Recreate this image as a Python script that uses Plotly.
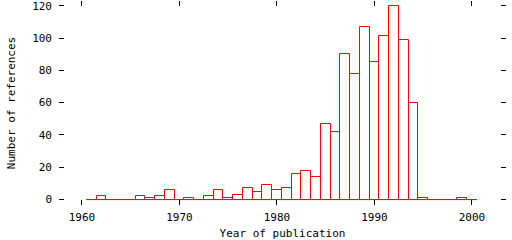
import plotly.graph_objects as go

years = list(range(1961, 2001))
counts = [0, 2, 0, 0, 0, 2, 1, 2, 6, 0,
          1, 0, 2, 6, 1, 3, 7, 5, 9, 6,
          7, 16, 18, 14, 47, 42, 90, 78, 107, 85,
          101, 120, 99, 60, 1, 0, 0, 0, 1, 0]
x_ticks = [1960, 1970, 1980, 1990, 2000]
y_ticks = [0, 20, 40, 60, 80, 100, 120]

FONT = "DejaVu Sans Mono"
RED = "#ff0000"

fig = go.Figure()
fig.add_trace(go.Bar(
    x=years, y=counts, width=1,
    marker=dict(color="rgba(0,0,0,0)", line=dict(color=RED, width=1)),
    showlegend=False, hoverinfo="skip",
))
fig.add_trace(go.Scatter(
    x=[years[0] - 0.5, years[-1] + 0.5], y=[0, 0], mode="lines",
    line=dict(color=RED, width=1), showlegend=False, hoverinfo="skip",
))

fig.update_layout(
    width=512, height=240,
    margin=dict(l=59, r=6, t=0, b=33),
    paper_bgcolor="white", plot_bgcolor="white",
    font=dict(family=FONT, size=11, color="black"),
    bargap=0,
)
fig.update_xaxes(
    range=[1957.65, 2003.5], tickvals=x_ticks, ticktext=[str(v) for v in x_ticks],
    ticks="inside", ticklen=5, tickwidth=1, tickcolor="black", mirror="ticks",
    showline=False, showgrid=False, zeroline=False, ticklabelstandoff=4,
    ticklabeloverflow="allow",
    title=dict(text="Year of publication", standoff=8, font=dict(size=11)),
)
fig.update_yaxes(
    range=[-3.35, 122.9], tickvals=y_ticks, ticktext=[str(v) for v in y_ticks],
    ticks="inside", ticklen=5, tickwidth=1, tickcolor="black", mirror="ticks",
    showline=False, showgrid=False, zeroline=False, ticklabelstandoff=6,
    ticklabeloverflow="allow",
    title=dict(text="Number of references", standoff=14, font=dict(size=11)),
)
fig.write_html("out.html")
